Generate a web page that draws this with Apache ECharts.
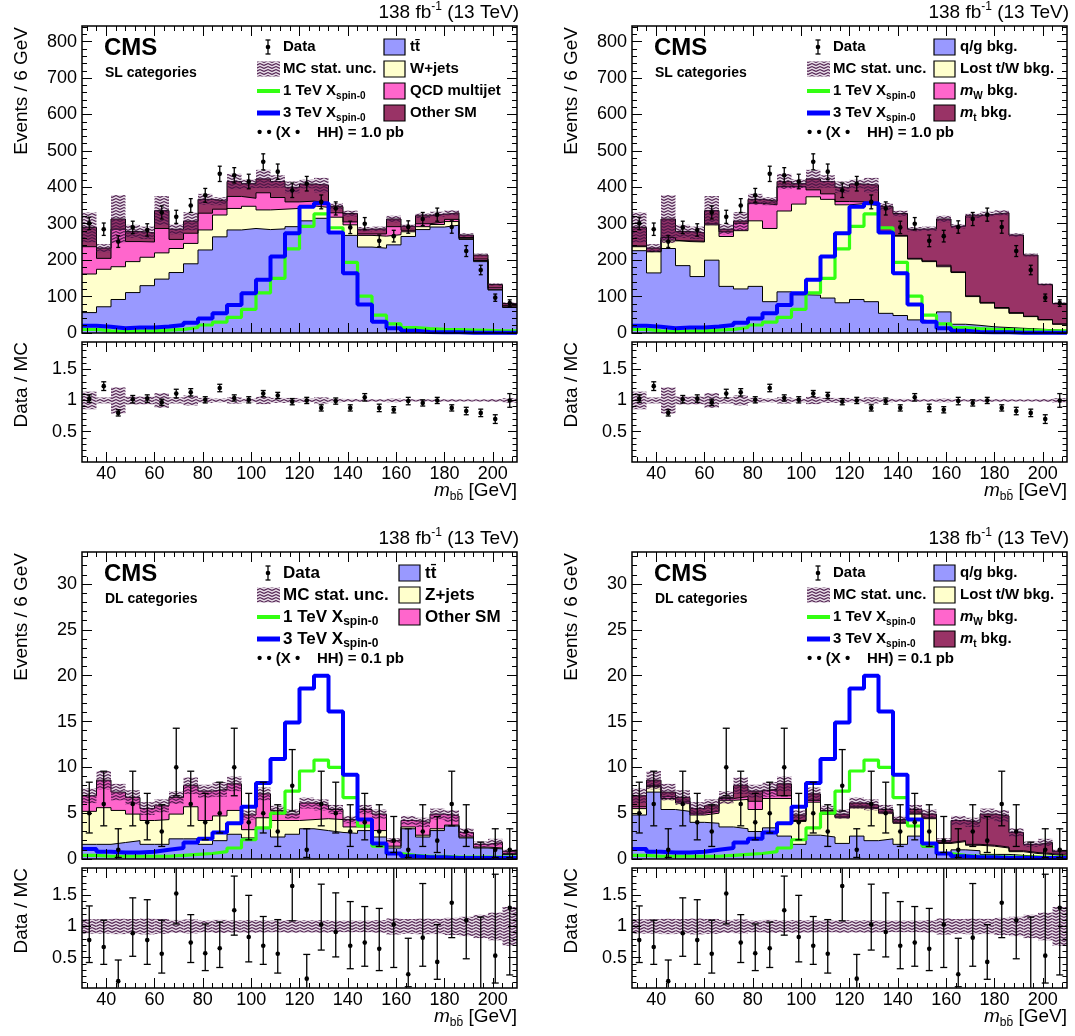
<!DOCTYPE html>
<html><head><meta charset="utf-8">
<script src="https://cdn.jsdelivr.net/npm/echarts@6/dist/echarts.min.js"></script>
<style>html,body{margin:0;padding:0;background:#fff}#c{width:1075px;height:1036px}</style>
</head><body><div id="c"></div>
<script>
// ---------------- DATA ----------------
const binEdges = [30,36,42,48,54,60,66,72,78,84,90,96,102,108,114,120,126,132,138,144,150,156,162,168,174,180,186,192,198,204,210];
const binCenters = [33,39,45,51,57,63,69,75,81,87,93,99,105,111,117,123,129,135,141,147,153,159,165,171,177,183,189,195,201,207];
const xMajorTicks = [40,60,80,100,120,140,160,180,200];
const slYLabels = [0,100,200,300,400,500,600,700,800];
const dlYLabels = [0,5,10,15,20,25,30];
const ratioYLabels = [0.5,1,1.5];

// SL categories (shared by both SL panels)
const slData = [301,285,251,290,283,331,319,350,378,437,433,416,470,443,392,410,360,342,290,300,253,266,291,313,325,291,225,173,97,82];
const slDataErr = [17,17,16,17,17,18,18,19,19,21,21,20,22,21,20,20,19,18,17,17,16,16,17,18,18,17,15,13,10,9];
const slTotal = [290,233,313,279,275,336,285,307,367,362,416,410,423,416,400,409,406,347,328,285,286,313,293,322,326,330,269,214,133,81];
const slUnc = [41,11,66,18,17,40,14,25,15,11,21,12,25,17,16,12,20,10,8,6,6,9,6,6,7,7,5,4,3,3];
const slSig1TeV = [10,6,4,6,6,8,10,15,22,30,43,65,110,150,231,293,327,289,194,101,49,25,15,12,10,9,8,7,6,6];
const slSig3TeV = [20,17,13,15,15,18,22,28,40,54,77,109,146,210,274,347,356,276,164,78,31,13,6,3,2,2,1,1,1,1];
const slRatio = [1.03,1.23,0.80,1.02,1.03,0.97,1.11,1.13,1.01,1.20,1.04,1.01,1.11,1.08,0.98,1.00,0.88,0.99,0.88,1.05,0.88,0.85,0.99,0.96,1.00,0.88,0.83,0.80,0.70,1.00];
const slRatioErr = [0.06,0.07,0.05,0.06,0.06,0.05,0.07,0.06,0.05,0.06,0.05,0.05,0.05,0.05,0.05,0.05,0.05,0.05,0.05,0.06,0.06,0.05,0.06,0.05,0.05,0.05,0.06,0.06,0.07,0.11];
// SL, process split
const slTT = [56,72,92,111,130,148,166,190,228,264,283,287,284,286,292,308,315,276,268,236,233,242,265,284,291,296,257,196,118,70];
const slWjets = [106,103,90,85,78,72,66,56,55,60,59,61,54,54,50,41,30,42,29,32,33,28,13,8,7,10,3,3,2,2];
const slQCD = [75,30,103,55,42,67,25,28,46,16,33,22,47,32,18,13,13,12,8,4,6,22,4,8,7,6,2,4,4,3];
const slOtherSM = [53,28,28,28,25,49,28,33,38,22,41,40,38,44,40,47,48,17,23,13,14,21,11,22,21,18,7,11,9,6];
// SL, mass-based split
const slQG = [226,165,232,185,155,200,128,121,128,86,113,105,104,96,83,92,86,54,48,36,31,58,24,21,17,15,13,11,9,7];
const slLost = [11,58,23,66,95,97,137,160,180,201,222,249,270,271,269,263,264,220,218,167,165,124,142,79,65,53,41,34,27,17];
const slMW = [2,1,7,2,2,3,13,20,48,65,67,48,19,15,9,5,5,2,2,2,2,4,2,2,2,2,2,1,1,1];
const slMT = [51,9,51,26,23,36,7,6,11,10,14,8,30,34,39,49,51,71,60,80,88,127,125,220,242,260,213,168,96,56];

// DL categories (shared by both DL panels)
const dlData = [5,6,1,6,4,3,10,6,4,5,10,4,5,3,8,1,6,5,3,4,3,2,1,3,2,6,3,0,1,1];
const dlDataLo = [2.84,3.62,0.17,3.62,2.09,1.37,6.90,3.62,2.09,2.84,6.90,2.09,2.84,1.37,5.24,0.17,3.62,2.84,1.37,2.09,1.37,0.71,0.17,1.37,0.71,3.62,1.37,0,0.17,0.17];
const dlDataHi = [8.38,9.58,3.30,9.58,7.16,5.92,14.27,9.58,7.16,8.38,14.27,7.16,8.38,5.92,11.94,3.30,9.58,8.38,5.92,7.16,5.92,4.64,3.30,5.92,4.64,9.58,5.92,1.84,3.30,3.30];
const dlTotal = [6.9,8.6,7.3,6.7,5.5,5.8,6.7,8.0,7.4,7.6,8.2,4.8,7.1,5.3,4.9,6.1,5.9,5.4,4.3,5.4,4.9,2.0,4.2,4.0,4.9,4.7,2.9,1.6,1.8,0.8];
const dlUnc = [0.8,1.0,0.9,0.8,0.7,0.7,0.7,0.9,0.7,0.8,0.8,0.5,0.7,0.5,0.5,0.6,0.6,0.5,0.4,0.5,0.5,0.26,0.5,0.5,0.6,0.65,0.45,0.3,0.4,0.25];
const dlSig1TeV = [0.4,0.3,0.3,0.3,0.3,0.3,0.4,0.5,0.6,0.8,1.2,2.1,3.4,5.0,7.4,9.6,10.8,10.0,6.7,3.6,1.4,0.6,0.4,0.3,0.3,0.2,0.2,0.2,0.2,0.2];
const dlSig3TeV = [1.1,0.8,0.7,0.7,0.8,1.0,1.2,1.8,2.2,2.9,3.9,5.7,8.3,10.9,14.9,18.6,20.0,16.1,9.2,4.3,1.7,0.6,0.3,0.2,0.2,0.1,0.1,0.1,0.1,0.1];
const dlRatio = [0.78,0.67,0.12,0.89,0.78,0.56,1.53,0.74,0.57,0.65,1.26,0.83,0.69,0.56,1.65,0.16,1.03,0.91,0.69,0.74,0.64,1.03,0.23,0.82,0.43,1.38,1.10,0,0.53,1.30];
const dlRatioLo = [0.42,0.39,0.02,0.52,0.39,0.25,1.04,0.42,0.29,0.34,0.86,0.43,0.39,0.25,1.09,0.02,0.62,0.51,0.32,0.36,0.29,0.34,0.03,0.36,0.15,0.82,0.48,0,0.09,0.22];
const dlRatioHi = [1.33,1.10,0.46,1.46,1.43,1.10,2.13,1.19,1.04,1.07,1.81,1.50,1.16,1.11,2.27,0.55,1.68,1.54,1.40,1.32,1.29,2.30,0.81,1.69,1.03,2.05,2.05,1.15,1.84,4.0];
// DL, process split
const dlTT = [1.6,1.6,1.8,2.0,1.6,1.6,2.2,2.2,1.6,2.0,2.7,2.3,3.4,2.4,2.7,3.3,3.1,2.9,2.8,3.1,2.4,1.2,3.3,2.4,3.1,3.6,2.3,1.2,1.1,0.5];
const dlZjets = [3.6,4.0,3.5,2.9,2.6,2.7,2.7,3.5,2.6,2.7,2.6,0.9,1.1,1.8,1.5,1.0,1.3,1.4,0.7,0.4,0.7,0.2,0.2,0.2,0.2,0.1,0.1,0.1,0.1,0.1];
const dlOtherSM = [1.7,3.0,2.0,1.8,1.3,1.5,1.8,2.3,3.2,2.9,2.9,1.6,2.6,1.1,0.7,1.8,1.5,1.1,0.8,1.9,1.8,0.6,0.7,1.4,1.6,1.0,0.5,0.3,0.6,0.2];
// DL, mass-based split
const dlQG = [4.8,7.3,5.4,5.2,4.0,3.9,3.5,3.3,3.0,3.4,2.5,1.6,2.6,2.4,1.7,2.5,2.0,2.2,1.6,2.5,1.3,0.5,1.0,0.9,0.5,0.5,0.4,0.3,0.2,0.1];
const dlLost = [0.7,0.6,1.2,0.9,0.8,1.1,2.9,3.2,2.4,3.2,4.1,2.5,3.6,2.5,2.8,3.1,3.5,2.8,2.3,2.4,3.1,1.2,0.9,0.6,0.9,0.7,0.4,0.3,0.3,0.2];
const dlMW = [0.2,0.1,0.2,0.2,0.2,0.2,0.2,0.3,0.9,0.9,0.3,0.1,0.2,0.1,0.1,0.1,0.1,0.1,0.1,0.1,0.1,0.1,0.1,0.1,0.1,0.1,0.1,0.1,0.1,0.1];
const dlMT = [1.2,0.6,0.5,0.4,0.5,0.6,0.1,1.2,1.1,0.1,1.3,0.6,0.7,0.3,0.3,0.4,0.3,0.3,0.3,0.4,0.4,0.2,2.2,2.4,3.4,3.4,2.0,0.9,1.2,0.4];

// ---------------- STYLE / LAYOUT ----------------
const FONT = '"Liberation Sans", Arial, Helvetica, sans-serif';
const C_BLUE = '#9999ff', C_YEL = '#ffffcc', C_PINK = '#ff66cc', C_DARK = '#993366';
const C_SIG1 = '#33ff11', C_SIG3 = '#0000ff';
const PANEL_OFF = [[0,0],[550,0],[0,526],[550,526]];

function range(a,b,s){const o=[];for(let v=a;v<=b+1e-9;v+=s)o.push(+v.toFixed(4));return o;}
const xMinorTicks = range(32,208,4);

const PAT = (function(){const c=document.createElement('canvas');c.width=8;c.height=3;const g=c.getContext('2d');
  g.fillStyle='rgba(110,50,110,0.18)';g.fillRect(0,0,8,3);
  g.strokeStyle='rgba(70,20,70,0.95)';g.lineWidth=1.1;g.beginPath();g.moveTo(0,2.4);g.lineTo(4,0.6);g.lineTo(8,2.4);g.stroke();return c;})();
const hatchFill = {image: PAT, repeat: 'repeat'};

const MC = document.createElement('canvas').getContext('2d');
function fnt(size,o){return (o.italic?'italic ':'')+(o.bold?'bold ':'')+size+'px '+FONT;}
function tw(t,size,o){MC.font=fnt(size,o||{});return MC.measureText(t).width;}
function txt(x,y,t,size,o){o=o||{};return {type:'text',x:x,y:y,z:100,silent:true,rotation:o.rot||0,
  style:{text:t,font:fnt(size,o),fill:'#000',textAlign:o.align||'left',textVerticalAlign:o.va||'middle'}};}
function seq(x,y,parts,align){const tot=parts.reduce((s,p)=>s+tw(p.t,p.size,p),0);let cx=align==='right'?x-tot:x;const out=[];
  parts.forEach(p=>{out.push(txt(cx,y+(p.dy||0),p.t,p.size,p));cx+=tw(p.t,p.size,p);});return out;}

const option = {animation:false, textStyle:{fontFamily:FONT}, grid:[], xAxis:[], yAxis:[], series:[], graphic:[]};

function addGrid(l,t,w,h,ymin,ymax,yMaj,yMin,xLab,tl){
  const g = option.grid.length;
  option.grid.push({left:l,top:t,width:w,height:h,show:false,containLabel:false,outerBoundsMode:'none'});
  const xi = option.xAxis.length, yi = option.yAxis.length;
  const base = {gridIndex:g,type:'value',z:10,splitLine:{show:false},axisLine:{show:false,onZero:false},minorTick:{show:false}};
  const lab = (vals,m)=>({show:true,customValues:vals,margin:m,fontSize:18,fontFamily:FONT,color:'#000'});
  const tick = (vals,len)=>({show:true,inside:true,length:len,customValues:vals,lineStyle:{color:'#000',width:1}});
  [['bottom',xMajorTicks,10,xLab],['bottom',xMinorTicks,5,false],['top',xMajorTicks,10,false],['top',xMinorTicks,5,false]].forEach(a=>{
    option.xAxis.push(Object.assign({},base,{min:30,max:210,position:a[0],axisTick:tick(a[1],a[2]),axisLabel:a[3]?lab(xMajorTicks,3):{show:false}}));
  });
  [['left',yMaj,tl,true],['left',yMin,tl/2,false],['right',yMaj,tl,false],['right',yMin,tl/2,false]].forEach(a=>{
    option.yAxis.push(Object.assign({},base,{min:ymin,max:ymax,position:a[0],axisTick:tick(a[1],a[2]),axisLabel:a[3]?lab(yMaj,5):{show:false}}));
  });
  option.graphic.push({type:'rect',z:100,silent:true,shape:{x:l,y:t,width:w,height:h},style:{fill:'none',stroke:'#000',lineWidth:1.5}});
  return {xi:xi,yi:yi};
}
function stepData(v){const d=v.map((y,i)=>[binEdges[i],y]);d.push([binEdges[30],v[29]]);return d;}
function lineSeries(ax,vals,color,w,z){return {type:'line',xAxisIndex:ax.xi,yAxisIndex:ax.yi,step:'end',symbol:'none',silent:true,z:z||4,
  data:stepData(vals),lineStyle:{color:color,width:w}};}
function bandSeries(ax,items){return {type:'custom',xAxisIndex:ax.xi,yAxisIndex:ax.yi,z:3,silent:true,data:items,encode:{x:[0,1],y:[2,3]},
  renderItem:(p,api)=>{const cs=p.coordSys;const a=api.coord([api.value(0),api.value(3)]),b=api.coord([api.value(1),api.value(2)]);
    const y0=Math.max(a[1],cs.y),y1=Math.min(b[1],cs.y+cs.height);
    return {type:'rect',shape:{x:a[0],y:y0,width:b[0]-a[0],height:Math.max(0,y1-y0)},style:{fill:hatchFill}};}};}
function dataSeries(ax,items,cap,r){return {type:'custom',xAxisIndex:ax.xi,yAxisIndex:ax.yi,z:5,silent:true,data:items,encode:{x:0,y:[1,2,3]},
  renderItem:(p,api)=>{const cs=p.coordSys;const x=api.value(0),y=api.value(1),lo=api.value(2),hi=api.value(3);
    const pc=api.coord([x,y]),pl=api.coord([x,lo]),ph=api.coord([x,hi]);const top=cs.y,bot=cs.y+cs.height;
    const yh=Math.max(ph[1],top),yl=Math.min(pl[1],bot);const ch=[];const st={stroke:'#000',lineWidth:1.3};
    ch.push({type:'line',shape:{x1:pc[0],y1:yh,x2:pc[0],y2:yl},style:st});
    if(ph[1]>=top)ch.push({type:'line',shape:{x1:pc[0]-cap,y1:ph[1],x2:pc[0]+cap,y2:ph[1]},style:st});
    if(pl[1]<=bot-1)ch.push({type:'line',shape:{x1:pc[0]-cap,y1:pl[1],x2:pc[0]+cap,y2:pl[1]},style:st});
    if(y>0&&pc[1]>=top&&pc[1]<=bot)ch.push({type:'circle',shape:{cx:pc[0],cy:pc[1],r:r},style:{fill:'#000'}});
    return {type:'group',children:ch};}};}

function legend(ox,oy,P){
  const G=option.graphic, fs=P.legFont, c2=P.col2x;
  const rows=[47,69,91,113,133].map(v=>v+oy);
  const mx=268+ox;
  G.push({type:'line',z:100,silent:true,shape:{x1:mx,y1:rows[0]-7,x2:mx,y2:rows[0]+7},style:{stroke:'#000',lineWidth:1.3}});
  G.push({type:'line',z:100,silent:true,shape:{x1:mx-2.5,y1:rows[0]-7,x2:mx+2.5,y2:rows[0]-7},style:{stroke:'#000',lineWidth:1.3}});
  G.push({type:'line',z:100,silent:true,shape:{x1:mx-2.5,y1:rows[0]+7,x2:mx+2.5,y2:rows[0]+7},style:{stroke:'#000',lineWidth:1.3}});
  G.push({type:'circle',z:100,silent:true,shape:{cx:mx,cy:rows[0],r:2.3},style:{fill:'#000'}});
  G.push({type:'rect',z:100,silent:true,shape:{x:257+ox,y:rows[1]-7.5,width:23,height:15},style:{fill:hatchFill}});
  G.push({type:'line',z:100,silent:true,shape:{x1:257+ox,y1:rows[2],x2:280+ox,y2:rows[2]},style:{stroke:C_SIG1,lineWidth:4}});
  G.push({type:'line',z:100,silent:true,shape:{x1:257+ox,y1:rows[3],x2:280+ox,y2:rows[3]},style:{stroke:C_SIG3,lineWidth:5}});
  const tx=283+ox;
  G.push(txt(tx,rows[0],'Data',fs,{bold:true}));
  G.push(txt(tx,rows[1],'MC stat. unc.',fs,{bold:true}));
  seq(tx,rows[2],[{t:'1 TeV X',size:fs,bold:true},{t:'spin-0',size:Math.round(fs*0.68),bold:true,dy:5}]).forEach(e=>G.push(e));
  seq(tx,rows[3],[{t:'3 TeV X',size:fs,bold:true},{t:'spin-0',size:Math.round(fs*0.68),bold:true,dy:5}]).forEach(e=>G.push(e));
  G.push(txt(257+ox,rows[4],'\u2022 \u2022 (X \u2022    HH) = '+P.xsec,15,{bold:true}));
  P.col2.forEach((e,i)=>{
    G.push({type:'rect',z:100,silent:true,shape:{x:c2+ox,y:rows[i]-8,width:21,height:16},style:{fill:e.color,stroke:'#000',lineWidth:1.2}});
    seq(c2+26+ox,rows[i],e.parts.map(p=>Object.assign({size:fs,bold:true},p))).forEach(el=>G.push(el));
  });
}

function buildPanel(pi,P){
  const ox=PANEL_OFF[pi][0], oy=PANEL_OFF[pi][1];
  const m = addGrid(82+ox,26+oy,435,307,0,P.ymax,P.yLabels,P.yMinor,false,10);
  const r = addGrid(82+ox,342+oy,435,120,0.01,1.94,ratioYLabels,range(0.1,1.9,0.1),true,9);
  let run=new Array(30).fill(0);const cums=[];
  P.layers.forEach(L=>{run=run.map((v,i)=>v+L.vals[i]);cums.push({vals:run.slice(),color:L.color});});
  for(let k=cums.length-1;k>=0;k--){
    option.series.push({type:'line',xAxisIndex:m.xi,yAxisIndex:m.yi,step:'end',symbol:'none',silent:true,z:2,
      data:stepData(cums[k].vals),lineStyle:{color:'#000',width:1},areaStyle:{color:cums[k].color,opacity:1}});
  }
  option.series.push(bandSeries(m,P.total.map((t,i)=>[binEdges[i],binEdges[i+1],t-P.unc[i],t+P.unc[i]])));
  option.series.push(lineSeries(m,P.sig1,C_SIG1,3.2,4));
  option.series.push(lineSeries(m,P.sig3,C_SIG3,4,4));
  option.series.push(dataSeries(m,binCenters.map((x,i)=>[x,P.data[i],P.dataLo[i],P.dataHi[i]]),P.capMain,2.3));
  option.series.push(bandSeries(r,P.total.map((t,i)=>[binEdges[i],binEdges[i+1],1-P.unc[i]/t,1+P.unc[i]/t])));
  option.series.push(dataSeries(r,binCenters.map((x,i)=>[x,P.ratio[i],P.ratioLo[i],P.ratioHi[i]]),P.capRatio,2.3));
  const G=option.graphic;
  seq(519+ox,13+oy,[{t:'138 fb',size:19},{t:'-1',size:12,dy:-6},{t:' (13 TeV)',size:19}],'right').forEach(e=>G.push(e));
  G.push(txt(104+ox,48+oy,'CMS',24,{bold:true}));
  G.push(txt(105+ox,73+oy,P.cat,14,{bold:true}));
  G.push(txt(22+ox,27+oy,'Events / 6 GeV',19,{rot:Math.PI/2,align:'right'}));
  G.push(txt(22+ox,342+oy,'Data / MC',19,{rot:Math.PI/2,align:'right'}));
  seq(517+ox,491+oy,[{t:'m',size:19,italic:true},{t:'bb\u0304',size:12,dy:6},{t:' [GeV]',size:19}],'right').forEach(e=>G.push(e));
  legend(ox,oy,P);
}

const mW = [{t:'m',italic:true},{t:'W',size:10,bold:true,dy:5},{t:' bkg.'}];
const mT = [{t:'m',italic:true},{t:'t',size:10,bold:true,dy:5},{t:' bkg.'}];
const massCol2 = [{color:C_BLUE,parts:[{t:'q/g bkg.'}]},{color:C_YEL,parts:[{t:'Lost t/W bkg.'}]},{color:C_PINK,parts:mW},{color:C_DARK,parts:mT}];
const slCommon = {ymax:843,yLabels:slYLabels,yMinor:range(20,840,20),total:slTotal,unc:slUnc,sig1:slSig1TeV,sig3:slSig3TeV,
  data:slData,dataLo:slData.map((v,i)=>v-slDataErr[i]),dataHi:slData.map((v,i)=>v+slDataErr[i]),
  ratio:slRatio,ratioLo:slRatio.map((v,i)=>v-slRatioErr[i]),ratioHi:slRatio.map((v,i)=>v+slRatioErr[i]),
  capMain:2,capRatio:2.5,cat:'SL categories',xsec:'1.0 pb',legFont:15,col2x:384};
const dlCommon = {ymax:33.5,yLabels:dlYLabels,yMinor:range(1,33,1),total:dlTotal,unc:dlUnc,sig1:dlSig1TeV,sig3:dlSig3TeV,
  data:dlData,dataLo:dlDataLo,dataHi:dlDataHi,ratio:dlRatio,ratioLo:dlRatioLo,ratioHi:dlRatioHi,
  capMain:3.5,capRatio:3.5,cat:'DL categories',xsec:'0.1 pb',legFont:15,col2x:384};

buildPanel(0,Object.assign({},slCommon,{layers:[{vals:slTT,color:C_BLUE},{vals:slWjets,color:C_YEL},{vals:slQCD,color:C_PINK},{vals:slOtherSM,color:C_DARK}],
  col2:[{color:C_BLUE,parts:[{t:'t'},{t:'t\u0304'}]},{color:C_YEL,parts:[{t:'W+jets'}]},{color:C_PINK,parts:[{t:'QCD multijet'}]},{color:C_DARK,parts:[{t:'Other SM'}]}]}));
buildPanel(1,Object.assign({},slCommon,{layers:[{vals:slQG,color:C_BLUE},{vals:slLost,color:C_YEL},{vals:slMW,color:C_PINK},{vals:slMT,color:C_DARK}],col2:massCol2}));
buildPanel(2,Object.assign({},dlCommon,{legFont:17,col2x:399,layers:[{vals:dlTT,color:C_BLUE},{vals:dlZjets,color:C_YEL},{vals:dlOtherSM,color:C_PINK}],
  col2:[{color:C_BLUE,parts:[{t:'t'},{t:'t\u0304'}]},{color:C_YEL,parts:[{t:'Z+jets'}]},{color:C_PINK,parts:[{t:'Other SM'}]}]}));
buildPanel(3,Object.assign({},dlCommon,{layers:[{vals:dlQG,color:C_BLUE},{vals:dlLost,color:C_YEL},{vals:dlMW,color:C_PINK},{vals:dlMT,color:C_DARK}],col2:massCol2}));

const chart = echarts.init(document.getElementById('c'),null,{renderer:'canvas'});
chart.setOption(option);
</script></body></html>
